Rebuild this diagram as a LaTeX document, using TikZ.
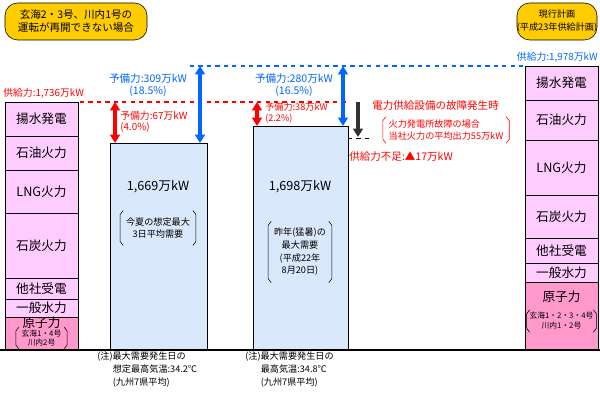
\documentclass[tikz,border=0pt]{standalone}
\usepackage{fontspec}
\setmainfont{Noto Sans CJK JP}
\usetikzlibrary{arrows.meta}
\definecolor{stackpink}{RGB}{255,204,255}
\definecolor{nukepink}{RGB}{255,153,204}
\definecolor{barblue}{RGB}{218,232,252}
\definecolor{tagyellow}{RGB}{255,204,0}
\definecolor{resblue}{RGB}{0,102,255}
\tikzset{
  layer/.style={draw=black,fill=stackpink},
  bar/.style={draw=black,fill=barblue},
  lbl/.style={inner sep=0pt,align=center,font=\fontsize{9}{11}\selectfont},
  small/.style={inner sep=0pt,align=left,font=\fontsize{6.5}{7.5}\selectfont},
  boxed/.style={inner xsep=4pt,inner ysep=1pt},
  tag/.style={fill=tagyellow,rounded corners=9pt,inner sep=0pt,align=center,font=\fontsize{7.5}{9}\selectfont},
  resarrow/.style={{Triangle[width=7pt,length=6pt]}-{Triangle[width=7pt,length=6pt]},line width=2.2pt},
}
\newcommand{\brk}[2][black]{%
  \draw[#1,line width=0.4pt] ([shift={(3,-1)}]#2.north west) -- ([shift={(0,3)}]#2.north west) -- ([shift={(0,-3)}]#2.south west) -- ([shift={(3,1)}]#2.south west);
  \draw[#1,line width=0.4pt] ([shift={(-3,-1)}]#2.north east) -- ([shift={(0,3)}]#2.north east) -- ([shift={(0,-3)}]#2.south east) -- ([shift={(-3,1)}]#2.south east);}
\begin{document}
\begin{tikzpicture}[x=0.025cm,y=-0.025cm]
    \useasboundingbox (0,0) rectangle (600,400);

    % Tags
    \draw[tag] (5,3) rectangle (147,40);
    \node[lbl,font=\fontsize{7.5}{9.5}\selectfont] (tagl) at (76,21) {玄海2・3号、川内1号の\\運転が再開できない場合};
    \draw[tag] (517,3) rectangle (597,40);
    \node[lbl,font=\fontsize{6.5}{9}\selectfont] (tagr) at (557,21) {現行計画\\(平成23年供給計画)};

    % Supply lines
    \draw[resblue,dashed,thick] (190,66) -- (525,66);
    \node[small,resblue,anchor=south east,font=\fontsize{7}{8}\selectfont] (supr) at (598,63) {供給力:1,978万kW};
    \draw[red,dashed,thick] (80,102) -- (350,102);
    \node[small,red,anchor=south west,font=\fontsize{7}{8}\selectfont] (supl) at (3,99) {供給力:1,736万kW};

    % Left stack
    \draw[layer] (5,102) rectangle (78,136) node[lbl,midway] {揚水発電};
    \draw[layer] (5,136) rectangle (78,170) node[lbl,midway] {石油火力};
    \draw[layer] (5,170) rectangle (78,213) node[lbl,midway] {LNG火力};
    \draw[layer] (5,213) rectangle (78,278) node[lbl,midway] {石炭火力};
    \draw[layer] (5,278) rectangle (78,299) node[lbl,midway] {他社受電};
    \draw[layer] (5,299) rectangle (78,317) node[lbl,midway] {一般水力};
    \draw[layer,fill=nukepink] (5,317) rectangle (78,350);
    \node[lbl] (nukel) at (41.5,323) {原子力};
    \node[small,boxed,align=center,font=\fontsize{5.5}{6.5}\selectfont] (nukelx) at (41.5,338) {玄海1・4号\\川内2号};
    \brk{nukelx}

    % Right stack
    \draw[layer] (525,66) rectangle (598,100) node[lbl,midway] {揚水発電};
    \draw[layer] (525,100) rectangle (598,140) node[lbl,midway] {石油火力};
    \draw[layer] (525,140) rectangle (598,195) node[lbl,midway] {LNG火力};
    \draw[layer] (525,195) rectangle (598,238) node[lbl,midway] {石炭火力};
    \draw[layer] (525,238) rectangle (598,263) node[lbl,midway] {他社受電};
    \draw[layer] (525,263) rectangle (598,282) node[lbl,midway] {一般水力};
    \draw[layer,fill=nukepink] (525,282) rectangle (598,350);
    \node[lbl] (nuker) at (561.5,297) {原子力};
    \node[small,inner xsep=2pt,inner ysep=1pt,align=center,font=\fontsize{5.5}{7}\selectfont] (nukerx) at (561.5,321) {玄海1・2・3・4号\\川内1・2号};
    \brk{nukerx}

    % Demand bars
    \draw[bar] (110,143) rectangle (207,350);
    \coordinate (top1) at (115,143);
    \coordinate (top1b) at (200,143);
    \node[lbl] (val1) at (158,187) {1,669万kW};
    \node[lbl,boxed,inner ysep=4pt,font=\fontsize{6.5}{9}\selectfont] (dem1) at (158,228) {今夏の想定最大\\3日平均需要};
    \brk{dem1}
    \draw[bar] (253,126) rectangle (348,350);
    \coordinate (top2) at (257,126);
    \coordinate (top2b) at (343,126);
    \node[lbl] (val2) at (300,187) {1,698万kW};
    \node[lbl,boxed,inner ysep=4pt,font=\fontsize{6.5}{9}\selectfont] (dem2) at (300,252) {昨年(猛暑)の\\最大需要\\(平成22年\\8月20日)};
    \brk{dem2}

    % Reserve arrows
    \coordinate (red1) at (115,102);
    \coordinate (blu1) at (200,66);
    \coordinate (red2) at (257,102);
    \coordinate (blu2) at (343,66);
    \draw[resarrow,red] (red1) -- (top1);
    \draw[resarrow,resblue] (blu1) -- (top1b);
    \draw[resarrow,red] (red2) -- (top2);
    \draw[resarrow,resblue] (blu2) -- (top2b);
    \node[lbl,resblue,font=\fontsize{7.5}{9}\selectfont] (res1) at (148,85) {予備力:309万kW\\(18.5\%)};
    \node[lbl,resblue,font=\fontsize{7.5}{9}\selectfont] (res2) at (294,85) {予備力:280万kW\\(16.5\%)};
    \node[small,red,anchor=west,font=\fontsize{7}{8}\selectfont] (res1s) at (120,122) {予備力:67万kW\\(4.0\%)};
    \node[small,red,anchor=west,font=\fontsize{6.5}{7.5}\selectfont] (res2s) at (265,113) {予備力:38万kW\\(2.2\%)};

    % Failure case
    \coordinate (fail0) at (358,102);
    \coordinate (fail1) at (358,137);
    \draw[{Triangle[width=7pt,length=6pt]}-,line width=2.2pt,black!80] (fail1) -- (fail0);
    \draw[dashed] (348,138) -- (372,138);
    \node[lbl,red,anchor=west,font=\fontsize{7.5}{9}\selectfont] (failt) at (372,106) {電力供給設備の故障発生時};
    \node[small,boxed,red,align=left,font=\fontsize{6.5}{9}\selectfont] (failx) at (446,130) {火力発電所故障の場合\\当社火力の平均出力55万kW};
    \brk[red]{failx}
    \node[lbl,red,anchor=west,font=\fontsize{7.5}{9}\selectfont] (short) at (349,157) {供給力不足:▲17万kW};

    % Baseline
    \draw[line width=1.5pt] (0,350) -- (600,350);

    % Notes
    \node[small,anchor=north west,font=\fontsize{6.5}{9}\selectfont] (note1) at (97,352) {(注)最大需要発生日の\\\hspace{1.7em}想定最高気温:34.2℃\\\hspace{1.7em}(九州7県平均)};
    \node[small,anchor=north west,font=\fontsize{6.5}{9}\selectfont] (note2) at (245,352) {(注)最大需要発生日の\\\hspace{1.7em}最高気温:34.8℃\\\hspace{1.7em}(九州7県平均)};
  \end{tikzpicture}
\end{document}
